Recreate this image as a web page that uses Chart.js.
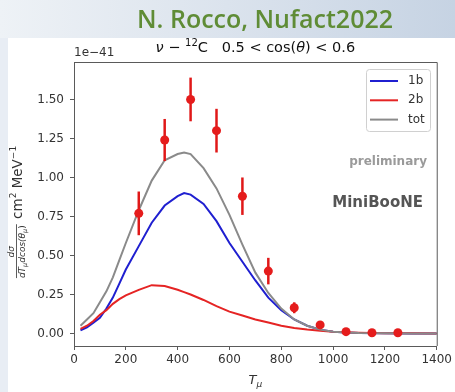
<!DOCTYPE html>
<html>
<head>
<meta charset="utf-8">
<script src="https://cdn.jsdelivr.net/npm/chart.js@4.4.1/dist/chart.umd.min.js"></script>
<style>
  html, body { margin: 0; padding: 0; background: #ffffff; }
  #c { display: block; }
</style>
</head>
<body>
<canvas id="c" width="455" height="392"></canvas>
<script>
// ---- data ----
const T_MODEL = [25, 50, 75, 100, 125, 150, 175, 200, 250, 300, 350, 400, 425, 450, 500, 550, 600, 650, 700, 750, 800, 850, 900, 950, 1000, 1050, 1100, 1200, 1300, 1400];
const XS_1B  = [0.02, 0.04, 0.07, 0.10, 0.16, 0.23, 0.32, 0.41, 0.56, 0.71, 0.82, 0.88, 0.90, 0.89, 0.83, 0.72, 0.58, 0.46, 0.34, 0.23, 0.15, 0.09, 0.05, 0.025, 0.012, 0.006, 0.003, 0.001, 0, 0];
const XS_2B  = [0.03, 0.05, 0.08, 0.12, 0.15, 0.19, 0.22, 0.245, 0.28, 0.31, 0.305, 0.28, 0.265, 0.25, 0.215, 0.175, 0.14, 0.115, 0.09, 0.07, 0.05, 0.035, 0.025, 0.018, 0.012, 0.008, 0.005, 0.002, 0.001, 0];
const XS_TOT = [0.05, 0.09, 0.13, 0.20, 0.27, 0.36, 0.47, 0.58, 0.79, 0.98, 1.11, 1.15, 1.16, 1.15, 1.06, 0.93, 0.76, 0.57, 0.39, 0.26, 0.16, 0.09, 0.05, 0.025, 0.012, 0.006, 0.003, 0.001, 0, 0];

const T_DATA   = [250, 350, 450, 550, 650, 750, 850, 950, 1050, 1150, 1250];
const XS_DATA  = [0.77, 1.24, 1.50, 1.30, 0.88, 0.40, 0.165, 0.055, 0.012, 0.005, 0.005];
const XS_ERR   = [0.14, 0.135, 0.14, 0.14, 0.12, 0.085, 0.035, 0.015, 0.006, 0.003, 0.003];

const X_TICKS = [0, 200, 400, 600, 800, 1000, 1200, 1400];
const Y_TICKS = [0.00, 0.25, 0.50, 0.75, 1.00, 1.25, 1.50];
const SERIES_NAMES = ['1b', '2b', 'tot'];
const SERIES_COLORS = ['#1f1fd0', '#e52424', '#8a8a8a'];

const toXY = (xs, ys) => xs.map((x, i) => ({ x: x, y: ys[i] }));

const FONT = '"DejaVu Sans", sans-serif';
const TEXT_COL = '#333333';
const SPINE_COL = '#5a5a5a';

// background of the slide
const bgPlugin = {
  id: 'bg',
  beforeDraw(chart) {
    const ctx = chart.ctx;
    const W = chart.width, H = chart.height;
    ctx.save();
    const g = ctx.createLinearGradient(0, 0, W, 0);
    g.addColorStop(0, '#eef2f6');
    g.addColorStop(0.5, '#dbe3ed');
    g.addColorStop(1, '#c6d3e3');
    ctx.fillStyle = g;
    ctx.fillRect(0, 0, W, 38);
    ctx.fillStyle = '#e8edf4';
    ctx.fillRect(0, 38, 8, H - 38);
    ctx.fillStyle = '#ffffff';
    ctx.fillRect(8, 38, W - 8, H - 38);
    ctx.restore();
  }
};

// error bars drawn under the markers
const errPlugin = {
  id: 'errbars',
  beforeDatasetDraw(chart, args) {
    if (args.index !== 3) return;
    const ctx = chart.ctx;
    const xs = chart.scales.x, ys = chart.scales.y;
    ctx.save();
    ctx.strokeStyle = '#e01818';
    ctx.lineWidth = 2.5;
    T_DATA.forEach((t, i) => {
      const px = xs.getPixelForValue(t);
      const y1 = ys.getPixelForValue(XS_DATA[i] - XS_ERR[i]);
      const y2 = ys.getPixelForValue(XS_DATA[i] + XS_ERR[i]);
      ctx.beginPath();
      ctx.moveTo(px, y1);
      ctx.lineTo(px, y2);
      ctx.stroke();
    });
    ctx.restore();
  }
};

// frame, titles, labels, legend and annotations
const textPlugin = {
  id: 'texts',
  afterDraw(chart) {
    const ctx = chart.ctx;
    const a = chart.chartArea;
    ctx.save();
    // top & right spines
    ctx.strokeStyle = SPINE_COL;
    ctx.lineWidth = 1;
    ctx.beginPath();
    ctx.moveTo(a.left, a.top + 0.5);
    ctx.lineTo(a.right + 0.5, a.top + 0.5);
    ctx.lineTo(a.right + 0.5, a.bottom);
    ctx.stroke();

    // header
    ctx.fillStyle = '#5f8c36';
    ctx.textBaseline = 'middle';
    ctx.textAlign = 'center';
    let fs = 24;
    ctx.font = '600 ' + fs + 'px "Open Sans", sans-serif';
    const w0 = ctx.measureText('N. Rocco, Nufact2022').width;
    fs = fs * 256 / w0;
    ctx.font = '600 ' + fs.toFixed(2) + 'px "Open Sans", sans-serif';
    ctx.fillText('N. Rocco, Nufact2022', 265, 21);

    // axes title (mathtext-like)
    ctx.fillStyle = '#111';
    ctx.textBaseline = 'alphabetic';
    ctx.textAlign = 'left';
    const parts = [
      { t: 'ν', f: 'italic 14.5px ' + FONT, dy: 0 },
      { t: ' − ', f: '14.5px ' + FONT, dy: 0 },
      { t: '12', f: '10px ' + FONT, dy: -6 },
      { t: 'C   0.5 < cos(', f: '14.5px ' + FONT, dy: 0 },
      { t: 'θ', f: 'italic 14.5px ' + FONT, dy: 0 },
      { t: ') < 0.6', f: '14.5px ' + FONT, dy: 0 }
    ];
    let tw = 0;
    parts.forEach(p => { ctx.font = p.f; p.w = ctx.measureText(p.t).width; tw += p.w; });
    let x = (a.left + a.right) / 2 - tw / 2;
    parts.forEach(p => { ctx.font = p.f; ctx.fillText(p.t, x, 52 + p.dy); x += p.w; });

    // offset text
    ctx.font = '12px ' + FONT;
    ctx.fillStyle = TEXT_COL;
    ctx.fillText('1e−41', 74, 56);

    // x label T_mu
    ctx.font = 'italic 13px ' + FONT;
    const wT = ctx.measureText('T').width;
    ctx.font = 'italic 9px ' + FONT;
    const wm = ctx.measureText('μ').width;
    let xl = (a.left + a.right) / 2 - (wT + wm) / 2;
    ctx.font = 'italic 13px ' + FONT;
    ctx.fillText('T', xl, 384);
    ctx.font = 'italic 9px ' + FONT;
    ctx.fillText('μ', xl + wT, 387);

    // y label (rotated)
    ctx.save();
    ctx.translate(20, 212);
    ctx.rotate(-Math.PI / 2);
    ctx.fillStyle = TEXT_COL;
    const den = [
      { t: 'dT', f: 'italic 9px ' + FONT, dy: 0 },
      { t: 'μ', f: 'italic 6.5px ' + FONT, dy: 2 },
      { t: 'dcos(', f: 'italic 9px ' + FONT, dy: 0 },
      { t: 'θ', f: 'italic 9px ' + FONT, dy: 0 },
      { t: 'μ', f: 'italic 6.5px ' + FONT, dy: 2 },
      { t: ')', f: '9px ' + FONT, dy: 0 }
    ];
    let dw = 0;
    den.forEach(p => { ctx.font = p.f; p.w = ctx.measureText(p.t).width; dw += p.w; });
    ctx.font = '13.5px ' + FONT;
    const wu1 = ctx.measureText(' cm').width;
    ctx.font = '9px ' + FONT;
    const wsq = ctx.measureText('2').width;
    ctx.font = '13.5px ' + FONT;
    const wu2 = ctx.measureText(' MeV').width;
    ctx.font = '9px ' + FONT;
    const wm1 = ctx.measureText('−1').width;
    const total = dw + 2 + wu1 + wsq + wu2 + wm1;
    let lx = -total / 2;
    ctx.strokeStyle = TEXT_COL;
    ctx.lineWidth = 0.8;
    ctx.beginPath();
    ctx.moveTo(lx, -3.5);
    ctx.lineTo(lx + dw + 1, -3.5);
    ctx.stroke();
    ctx.font = 'italic 9px ' + FONT;
    ctx.textAlign = 'center';
    ctx.fillText('dσ', lx + dw / 2, -6);
    ctx.textAlign = 'left';
    let dx = lx;
    den.forEach(p => { ctx.font = p.f; ctx.fillText(p.t, dx, 5 + p.dy); dx += p.w; });
    lx += dw + 2;
    ctx.font = '13.5px ' + FONT;
    ctx.fillText(' cm', lx, 1.5); lx += wu1;
    ctx.font = '9px ' + FONT;
    ctx.fillText('2', lx, -4.5); lx += wsq;
    ctx.font = '13.5px ' + FONT;
    ctx.fillText(' MeV', lx, 1.5); lx += wu2;
    ctx.font = '9px ' + FONT;
    ctx.fillText('−1', lx, -4.5);
    ctx.restore();

    // annotations
    ctx.textAlign = 'right';
    ctx.textBaseline = 'middle';
    ctx.fillStyle = '#9a9a9a';
    ctx.font = 'bold 12px ' + FONT;
    ctx.fillText('preliminary', 427, 162);
    ctx.fillStyle = '#555555';
    ctx.font = 'bold 15px ' + FONT;
    ctx.fillText('MiniBooNE', 423, 203);

    // legend
    const bx = 366, by = 69, bw = 64, bh = 62;
    ctx.fillStyle = 'rgba(255,255,255,0.8)';
    ctx.strokeStyle = '#d0d0d0';
    ctx.lineWidth = 1;
    ctx.beginPath();
    ctx.roundRect(bx + 0.5, by + 0.5, bw, bh, 3);
    ctx.fill();
    ctx.stroke();
    ctx.textAlign = 'left';
    ctx.font = '12px ' + FONT;
    SERIES_NAMES.forEach((n, i) => {
      const yy = 81 + i * 19.3;
      ctx.strokeStyle = SERIES_COLORS[i];
      ctx.lineWidth = 2;
      ctx.beginPath();
      ctx.moveTo(370, yy);
      ctx.lineTo(398, yy);
      ctx.stroke();
      ctx.fillStyle = TEXT_COL;
      ctx.fillText(n, 408, yy);
    });
    ctx.restore();
  }
};

const lineDs = (label, ys, color, order) => ({
  type: 'line',
  label: label,
  data: toXY(T_MODEL, ys),
  borderColor: color,
  backgroundColor: color,
  borderWidth: 2,
  pointRadius: 0,
  tension: 0,
  fill: false,
  order: order
});

new Chart(document.getElementById('c'), {
  type: 'line',
  data: {
    datasets: [
      lineDs(SERIES_NAMES[0], XS_1B, SERIES_COLORS[0], 3),
      lineDs(SERIES_NAMES[1], XS_2B, SERIES_COLORS[1], 2),
      lineDs(SERIES_NAMES[2], XS_TOT, SERIES_COLORS[2], 1),
      {
        type: 'scatter',
        label: 'MiniBooNE',
        data: toXY(T_DATA, XS_DATA),
        showLine: false,
        pointRadius: 4.5,
        pointBackgroundColor: '#e51c1c',
        pointBorderColor: '#e51c1c',
        pointBorderWidth: 0,
        order: 0
      }
    ]
  },
  options: {
    responsive: false,
    animation: false,
    devicePixelRatio: 1,
    layout: { padding: { left: 0, top: 62, right: 18, bottom: 0 } },
    plugins: {
      legend: { display: false },
      tooltip: { enabled: false },
      title: { display: false }
    },
    scales: {
      x: {
        type: 'linear',
        min: 0,
        max: 1400,
        afterFit(s) { s.height = 46; },
        afterBuildTicks(s) { s.ticks = X_TICKS.map(v => ({ value: v })); },
        grid: { drawOnChartArea: false, drawTicks: true, tickLength: 4, color: SPINE_COL },
        border: { display: true, color: SPINE_COL, width: 1 },
        ticks: {
          font: { family: FONT, size: 12 },
          color: TEXT_COL,
          padding: 3,
          maxRotation: 0,
          callback: v => String(v)
        }
      },
      y: {
        type: 'linear',
        min: -0.08,
        max: 1.74,
        afterFit(s) { s.width = 74; },
        afterBuildTicks(s) { s.ticks = Y_TICKS.map(v => ({ value: v })); },
        grid: { drawOnChartArea: false, drawTicks: true, tickLength: 4, color: SPINE_COL },
        border: { display: true, color: SPINE_COL, width: 1 },
        ticks: {
          font: { family: FONT, size: 12 },
          color: TEXT_COL,
          padding: 6,
          callback: v => Number(v).toFixed(2)
        }
      }
    }
  },
  plugins: [bgPlugin, errPlugin, textPlugin]
});
</script>
</body>
</html>
